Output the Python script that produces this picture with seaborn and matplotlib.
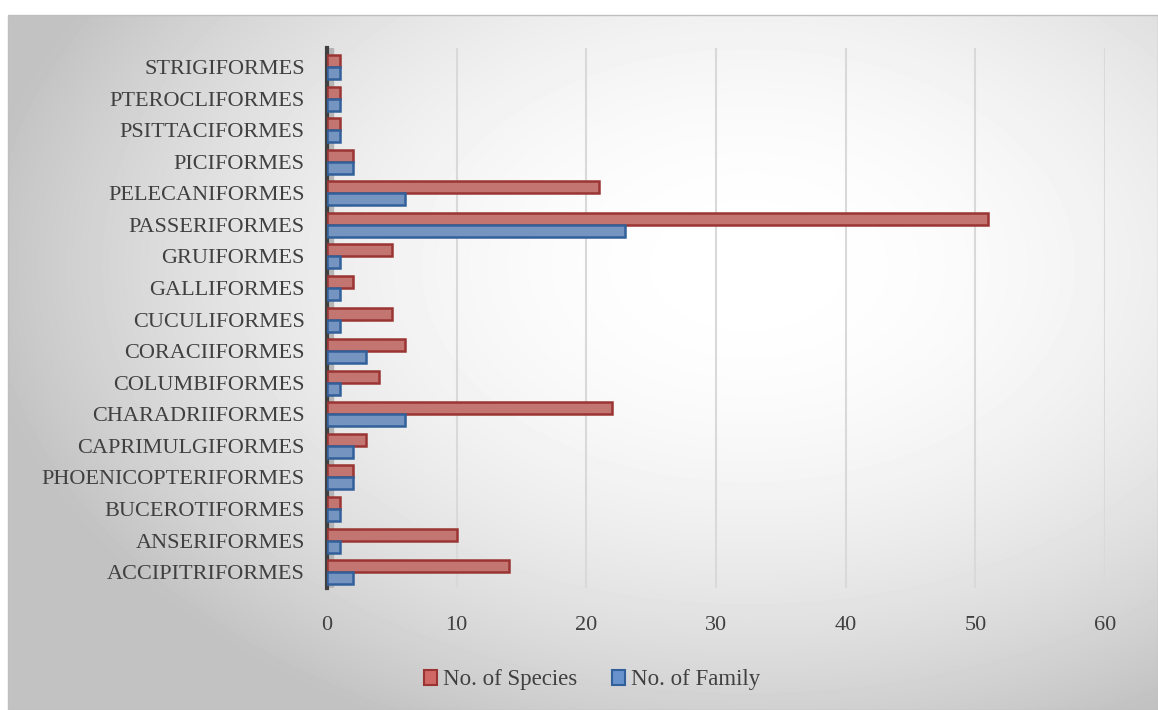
import numpy as np
import pandas as pd
import matplotlib.pyplot as plt
import seaborn as sns

# bird orders, listed top to bottom as they appear in the chart
orders = [
    "STRIGIFORMES", "PTEROCLIFORMES", "PSITTACIFORMES", "PICIFORMES",
    "PELECANIFORMES", "PASSERIFORMES", "GRUIFORMES", "GALLIFORMES",
    "CUCULIFORMES", "CORACIIFORMES", "COLUMBIFORMES", "CHARADRIIFORMES",
    "CAPRIMULGIFORMES", "PHOENICOPTERIFORMES", "BUCEROTIFORMES",
    "ANSERIFORMES", "ACCIPITRIFORMES",
]
n_species = [1, 1, 1, 2, 21, 51, 5, 2, 5, 6, 4, 22, 3, 2, 1, 10, 14]
n_family = [1, 1, 1, 2, 6, 23, 1, 1, 1, 3, 1, 6, 2, 2, 1, 1, 2]
series = ["No. of Species", "No. of Family"]
x_ticks = [0, 10, 20, 30, 40, 50, 60]

fill_colors = ["#D06865", "#6892CC"]
edge_colors = ["#9B3533", "#32609A"]
text_color = "#404040"

df = pd.DataFrame({"order": orders, series[0]: n_species, series[1]: n_family})
df = df.melt(id_vars="order", var_name="series", value_name="count")

sns.set_style("white")
plt.rcParams["font.family"] = ["Liberation Serif", "DejaVu Serif"]

W, H = 1158, 710
fig = plt.figure(figsize=(W / 100, H / 100), dpi=100)

# radial grey gradient behind the chart (Excel-style chart area)
bg = fig.add_axes([8 / W, 0, 1 - 8 / W, 1 - 15 / H], zorder=-2)
yy, xx = np.mgrid[0:695, 0:1150]
r = np.sqrt(((xx - 740) / 650.0) ** 2 + ((yy - 250) / 430.0) ** 2)
shade = np.clip(1 - 0.17 * r ** 2, 0.76, 1.0)
bg.imshow(shade, cmap="gray", vmin=0, vmax=1, aspect="auto",
          extent=[0, 1, 0, 1], origin="upper")
bg.set_axis_off()
fig.patches.append(plt.Rectangle((8 / W, 0), 1 - 8 / W, 1 - 15 / H,
                                 transform=fig.transFigure, fill=False,
                                 edgecolor="#bfbfbf", linewidth=1))

ax = fig.add_axes([327 / W, 1 - 588 / H, (1105 - 327) / W, (588 - 48) / H])
ax.patch.set_alpha(0)

sns.barplot(data=df, y="order", x="count", hue="series", order=orders,
            hue_order=series, palette=fill_colors, width=0.76, ax=ax,
            legend=False, zorder=3)

for cont, ec in zip(ax.containers, edge_colors):
    for bar in cont:
        bar.set_edgecolor(ec)
        bar.set_linewidth(1.8)

ax.set_xlim(0, 60)
ax.set_ylim(16.5, -0.6)
ax.set_xticks(x_ticks)
ax.set_xticklabels([str(t) for t in x_ticks], fontsize=16, color=text_color)
ax.tick_params(axis="y", labelsize=16, labelcolor=text_color, length=0, pad=16)
ax.tick_params(axis="x", length=0, pad=20)
ax.set_xlabel("")
ax.set_ylabel("")

ax.grid(axis="x", color="#d9d9d9", linewidth=1.5, zorder=0)
ax.axvspan(0, 0.45, color="#b5b5b5", zorder=1)

for side in ["top", "right", "bottom"]:
    ax.spines[side].set_visible(False)
ax.spines["left"].set_color("#404040")
ax.spines["left"].set_linewidth(3)

handles = [plt.Rectangle((0, 0), 1, 1, facecolor=fc, edgecolor=ec, linewidth=1.5)
           for fc, ec in zip(fill_colors, edge_colors)]
fig.legend(handles, series, loc="center", bbox_to_anchor=(592 / W, 1 - 680 / H),
           ncol=2, frameon=False, fontsize=16.5, labelcolor=text_color,
           handlelength=0.6, handleheight=0.6, handletextpad=0.25, columnspacing=1.5)

fig.savefig("out.png", dpi=100)
